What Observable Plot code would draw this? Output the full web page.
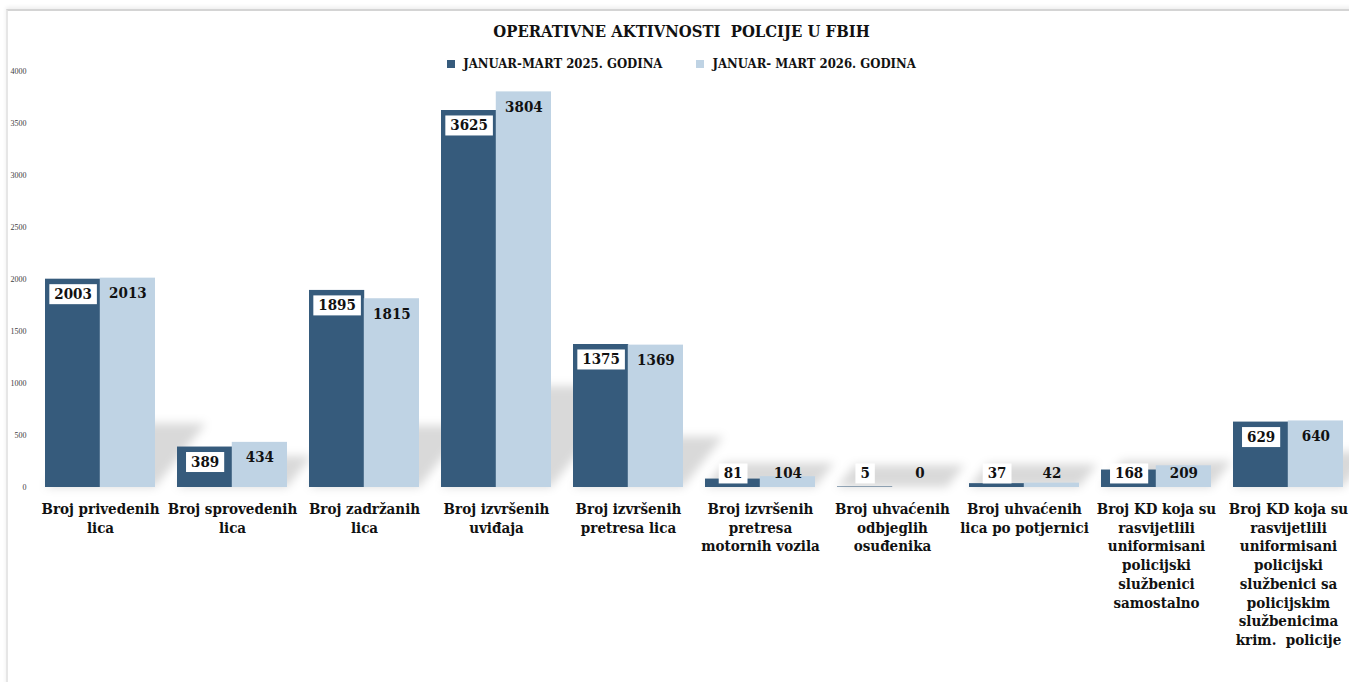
<!DOCTYPE html>
<html><head><meta charset="utf-8">
<script src="https://cdn.jsdelivr.net/npm/d3@7"></script>
<script src="https://cdn.jsdelivr.net/npm/@observablehq/plot@0.6"></script>
<style>
html,body{margin:0;padding:0;background:#fff;}
#wrap{position:relative;width:1349px;height:682px;overflow:hidden;font-family:"DejaVu Serif Condensed","DejaVu Serif",serif;}
#chart{position:absolute;left:0;top:0;}
#frame{position:absolute;left:6px;top:9px;width:1400px;height:700px;border-left:2px solid #e6e6e6;border-top:2px solid #d4d4d4;box-shadow:0 -2px 4px rgba(0,0,0,0.07);pointer-events:none;z-index:3;}
#title{position:absolute;left:7px;width:1349px;top:22px;text-align:center;font-weight:bold;font-size:16.5px;white-space:pre;color:#111;z-index:2;}
#legend{position:absolute;left:7px;width:1349px;top:56px;display:flex;justify-content:center;gap:34px;font-weight:bold;font-size:13px;color:#111;z-index:2;}
.item{display:flex;align-items:center;gap:8px;white-space:pre;}
.sw{width:8px;height:8px;display:inline-block;}
</style></head>
<body>
<div id="wrap"><div id="chart"></div><div id="title"></div><div id="legend"></div><div id="frame"></div></div>
<script>
const title = "OPERATIVNE AKTIVNOSTI  POLCIJE U FBIH";
const seriesNames = ["JANUAR-MART 2025. GODINA", "JANUAR- MART 2026. GODINA"];
const seriesColors = ["#365B7C", "#BFD3E4"];
const categories = [
  "Broj privedenih\nlica",
  "Broj sprovedenih\nlica",
  "Broj zadržanih\nlica",
  "Broj izvršenih\nuviđaja",
  "Broj izvršenih\npretresa lica",
  "Broj izvršenih\npretresa\nmotornih vozila",
  "Broj uhvaćenih\nodbjeglih\nosuđenika",
  "Broj uhvaćenih\nlica po potjernici",
  "Broj KD koja su\nrasvijetlili\nuniformisani\npolicijski\nslužbenici\nsamostalno",
  "Broj KD koja su\nrasvijetlili\nuniformisani\npolicijski\nslužbenici sa\npolicijskim\nslužbenicima\nkrim.  policije"
];
const values2025 = [2003, 389, 1895, 3625, 1375, 81, 5, 37, 168, 629];
const values2026 = [2013, 434, 1815, 3804, 1369, 104, 0, 42, 209, 640];
const yTicks = [0, 500, 1000, 1500, 2000, 2500, 3000, 3500, 4000];

const FONT = '"DejaVu Serif Condensed","DejaVu Serif",serif';
const xRange = [34, 1354], padIn = 0.17, padOut = 0.085;
const bw = d3.scaleBand().domain(categories).range(xRange).paddingInner(padIn).paddingOuter(padOut).bandwidth();

const rows = categories.map((c, i) => ({cat: c, a: values2025[i], b: values2026[i]}));
const labelY = v => Math.max(v - 144, 135);

document.getElementById("title").textContent = title;
const leg = document.getElementById("legend");
seriesNames.forEach((n, i) => {
  const it = document.createElement("div"); it.className = "item";
  const sw = document.createElement("span"); sw.className = "sw"; sw.style.background = seriesColors[i];
  const tx = document.createElement("span"); tx.textContent = n;
  it.appendChild(sw); it.appendChild(tx); leg.appendChild(it);
});

const cnv = document.createElement("canvas").getContext("2d");
cnv.font = 'bold 15px ' + FONT;

function shadowRender(index, scales, values, dimensions, context, next) {
  const g = d3.create("svg:g");
  g.append("defs").append("filter").attr("id", "shblur").attr("x", "-50%").attr("y", "-50%").attr("width", "200%").attr("height", "200%")
    .append("feGaussianBlur").attr("stdDeviation", 5);
  const band = scales.x.bandwidth ? scales.x.bandwidth() : bw;
  for (const i of index) {
    const L = values.x[i], R = L + band;
    const b = Math.max(values.y1[i], values.y2[i]), t = Math.min(values.y1[i], values.y2[i]);
    const h = b - t, s = 0.2 * h + 22, k = 0.8 * s;
    g.append("path").attr("d", `M${L},${b}L${R},${b}L${R + k},${b - s}L${L + k},${b - s}Z`)
      .attr("fill", "#000").attr("fill-opacity", 0.15).attr("filter", "url(#shblur)");
  }
  return g.node();
}

function boxRender(index, scales, values, dimensions, context, next) {
  const g = next(index, scales, values, dimensions, context);
  const sel = d3.select(g);
  for (const i of index) {
    const txt = String(values2025[i]);
    const w = cnv.measureText(txt).width + 10;
    sel.insert("rect", "text").attr("x", values.x[i] - w / 2).attr("y", values.y[i] - 10).attr("width", w).attr("height", 20).attr("fill", "#fff");
  }
  return g;
}

const chart = Plot.plot({
  width: 1349, height: 682,
  marginLeft: 28, marginRight: 0, marginTop: 0, marginBottom: 0,
  style: {fontFamily: FONT, background: "transparent", overflow: "visible"},
  x: {domain: categories, range: xRange, paddingInner: padIn, paddingOuter: padOut, axis: null},
  y: {domain: [0, 4000], range: [487, 71], axis: null},
  marks: [
    Plot.barY(rows, {x: "cat", y: d => Math.max(d.a, d.b), render: shadowRender}),
    Plot.barY(rows, {x: "cat", y: "a", fill: seriesColors[0], insetRight: bw / 2}),
    Plot.barY(rows, {x: "cat", y: "b", fill: seriesColors[1], insetLeft: bw / 2}),
    Plot.axisY({ticks: yTicks, tickSize: 0, tickPadding: 2, fontSize: 8, color: "#404040", label: null, tickFormat: d => String(d), fontFamily: '"Liberation Serif",serif'}),
    Plot.text(rows, {x: "cat", y: d => labelY(d.a), text: d => String(d.a), dx: -bw / 4, fontSize: 15, fontWeight: "bold", fill: "#111", render: boxRender}),
    Plot.text(rows, {x: "cat", y: d => labelY(d.b), text: d => String(d.b), dx: bw / 4, fontSize: 15, fontWeight: "bold", fill: "#111"}),
    Plot.text(categories, {x: d => d, y: 0, text: d => d, dy: 13, lineAnchor: "top", fontSize: 15, fontWeight: "bold", lineHeight: 1.25, fill: "#111"})
  ]
});
document.getElementById("chart").appendChild(chart);
</script>
</body></html>
